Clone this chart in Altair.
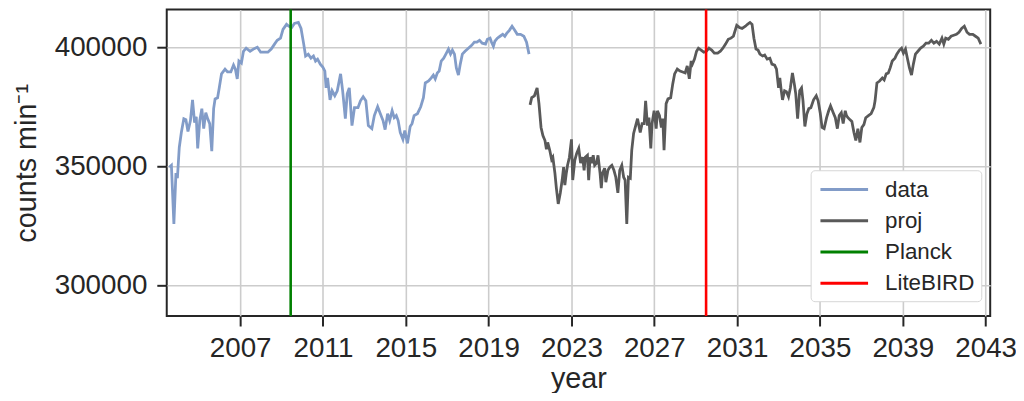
import altair as alt
import pandas as pd

# ---- observed neutron-monitor counts ("data") ----
data_year = [
    2003.58, 2003.68, 2003.80, 2003.90, 2003.97,
    2004.06, 2004.16, 2004.28, 2004.38, 2004.48, 2004.60, 2004.70, 2004.80, 2004.88, 2004.95,
    2005.05, 2005.15, 2005.24, 2005.34, 2005.43, 2005.53, 2005.63, 2005.72, 2005.79, 2005.91, 2005.99,
    2006.10, 2006.27, 2006.39, 2006.55, 2006.68, 2006.77, 2006.86, 2006.94,
    2007.06, 2007.16, 2007.29, 2007.48, 2007.64, 2007.83, 2007.99,
    2008.18, 2008.34, 2008.50, 2008.66, 2008.79, 2008.95,
    2009.07, 2009.24, 2009.36, 2009.49, 2009.62, 2009.81, 2009.94,
    2010.07, 2010.16, 2010.29, 2010.42, 2010.54, 2010.64, 2010.74, 2010.87, 2010.99,
    2011.09, 2011.15, 2011.22, 2011.34, 2011.44, 2011.57, 2011.69, 2011.85, 2011.95,
    2012.08, 2012.17, 2012.27, 2012.40, 2012.52, 2012.69, 2012.81, 2012.94,
    2013.07, 2013.19, 2013.36, 2013.48, 2013.64, 2013.77, 2013.90,
    2014.00, 2014.12, 2014.22, 2014.34, 2014.44, 2014.54, 2014.63, 2014.73, 2014.86, 2014.95,
    2015.08, 2015.21, 2015.30, 2015.40, 2015.56, 2015.72, 2015.85, 2015.94,
    2016.10, 2016.23, 2016.33, 2016.42, 2016.52, 2016.61, 2016.71, 2016.83, 2016.96,
    2017.06, 2017.16, 2017.25, 2017.35, 2017.44, 2017.54, 2017.63, 2017.73, 2017.86,
    2018.02, 2018.18, 2018.31, 2018.43, 2018.56, 2018.69, 2018.85, 2018.94,
    2019.07, 2019.14, 2019.23, 2019.30, 2019.42, 2019.55, 2019.68, 2019.78, 2019.87,
    2020.00, 2020.13, 2020.26, 2020.38, 2020.54, 2020.70, 2020.83, 2020.95,
]
data_value = [
    349600, 350400, 325800, 347100, 345000,
    357900, 364200, 370000, 369600, 364600, 369200, 377900, 368300, 370800, 357500,
    369200, 374200, 365800, 372500, 370000, 367900, 356300, 374200, 378300, 378800, 382900,
    388800, 390800, 389600, 389600, 392500, 390800, 386700, 394200,
    393300, 398300, 399600, 398300, 399200, 400000, 397900,
    397900, 397900, 399200, 401300, 402900, 403800,
    407500, 409600, 408800, 408300, 410000, 410400, 407900,
    401300, 396300, 397100, 395400, 396300, 394200, 395000, 392900, 391700,
    390000, 382900, 387100, 377900, 381700, 379600, 381700, 388800, 381700,
    370000, 380400, 382900, 367100, 374600, 374600, 377500, 379200,
    377500, 367100, 365800, 371300, 375000, 372100, 369200,
    365400, 372100, 369200, 373300, 370400, 371300, 369200, 364200, 361300, 365000,
    359600, 366700, 367900, 371300, 372100, 375000, 378800, 385000,
    385800, 387100, 388300, 386700, 389200, 390000, 394200, 395400, 397500,
    399200, 397100, 398800, 397100, 391300, 388300, 392900, 397100, 398300,
    399600, 400800, 402100, 402100, 402900, 401700, 401300, 403300,
    403800, 402100, 400400, 402500, 403800, 404600, 405400, 404600, 405800,
    407100, 408800, 407100, 405400, 405400, 404600, 402100, 397100,
]

# ---- projection ("proj") ----
proj_year = [
    2021.00, 2021.08, 2021.21, 2021.34, 2021.43, 2021.53, 2021.62, 2021.72, 2021.79, 2021.85, 2021.95,
    2022.04, 2022.10, 2022.20, 2022.27, 2022.36, 2022.46, 2022.55, 2022.62, 2022.68, 2022.75, 2022.81, 2022.90,
    2023.00, 2023.06, 2023.16, 2023.25, 2023.35, 2023.44, 2023.54, 2023.61, 2023.67, 2023.77, 2023.83, 2023.90, 2023.99,
    2024.05, 2024.12, 2024.21, 2024.28, 2024.38, 2024.44, 2024.50, 2024.60, 2024.66, 2024.76, 2024.85, 2024.95,
    2025.05, 2025.14, 2025.24, 2025.33, 2025.43, 2025.52, 2025.59, 2025.67, 2025.75, 2025.84, 2025.91,
    2026.00, 2026.10, 2026.19, 2026.32, 2026.41, 2026.51, 2026.58, 2026.67, 2026.74, 2026.83, 2026.89, 2026.99,
    2027.09, 2027.15, 2027.25, 2027.34, 2027.41, 2027.47, 2027.57, 2027.66, 2027.79, 2027.89, 2027.98,
    2028.11, 2028.24, 2028.37, 2028.49, 2028.59, 2028.69, 2028.78, 2028.84, 2028.94,
    2029.04, 2029.13, 2029.26, 2029.39, 2029.51, 2029.64, 2029.77, 2029.90,
    2030.06, 2030.19, 2030.31, 2030.44, 2030.57, 2030.70, 2030.82, 2030.98,
    2031.11, 2031.24, 2031.40, 2031.50, 2031.62, 2031.72, 2031.81, 2031.91,
    2032.01, 2032.10, 2032.23, 2032.33, 2032.45, 2032.58, 2032.68, 2032.81, 2032.90,
    2033.00, 2033.06, 2033.12, 2033.19, 2033.29, 2033.38, 2033.48, 2033.57, 2033.67, 2033.76, 2033.83, 2033.92,
    2034.02, 2034.11, 2034.18, 2034.27, 2034.37, 2034.46, 2034.56, 2034.69, 2034.82, 2034.91,
    2035.01, 2035.10, 2035.20, 2035.32, 2035.42, 2035.51, 2035.64, 2035.74, 2035.84, 2035.93,
    2036.03, 2036.12, 2036.22, 2036.28, 2036.35, 2036.44, 2036.54, 2036.64, 2036.73, 2036.83, 2036.93,
    2037.02, 2037.12, 2037.21, 2037.34, 2037.47, 2037.60, 2037.66, 2037.75, 2037.88,
    2038.01, 2038.10, 2038.20, 2038.30, 2038.39, 2038.49, 2038.62, 2038.71, 2038.84, 2038.94,
    2039.03, 2039.13, 2039.22, 2039.32, 2039.42, 2039.51, 2039.61, 2039.73, 2039.86, 2039.99,
    2040.12, 2040.25, 2040.38, 2040.50, 2040.63, 2040.76, 2040.89, 2040.98,
    2041.07, 2041.20, 2041.33, 2041.46, 2041.59, 2041.71, 2041.84, 2041.97,
    2042.10, 2042.22, 2042.38, 2042.51, 2042.64, 2042.77,
]
proj_value = [
    375800, 378800, 379600, 382900, 376300, 366300, 362900, 360800, 357100, 360000, 356700,
    352900, 353800, 347100, 340800, 334200, 338800, 344200, 349600, 342100, 347100, 350400, 353800,
    361300, 344200, 352500, 355400, 357500, 351300, 353800, 348300, 353800, 354600, 344200, 353800, 351300,
    354600, 350400, 351300, 354600, 347100, 340800, 347100, 349200, 343300, 348300, 349600, 350400,
    348300, 345400, 338800, 348300, 350400, 345400, 344200, 325800, 345400, 345000, 356700,
    363800, 367100, 370000, 364200, 367900, 367900, 377500, 367100, 370400, 357500, 367900, 373300,
    365800, 373300, 371300, 366300, 370000, 356700, 376300, 378300, 378800, 384600, 388800,
    390800, 390000, 389600, 389200, 392100, 386700, 394200, 392900, 395000,
    398300, 399600, 398800, 397900, 398300, 399600, 398800, 397500,
    397500, 398300, 399600, 401300, 403300, 403800, 404600, 409200,
    408300, 407900, 408800, 409600, 410400, 409600, 403800, 399200,
    398800, 397100, 396300, 396700, 395000, 395400, 392900, 392500, 390800,
    382900, 387100, 382500, 377900, 381700, 381300, 379200, 382900, 389200, 384600, 380400, 370000,
    381700, 382900, 377500, 366700, 372100, 374200, 374600, 377900, 379600, 377500,
    372500, 366300, 365800, 370400, 373300, 375400, 372500, 370400, 365800, 371300,
    372500, 367900, 373300, 371300, 370400, 369600, 368800, 364200, 360800, 365800, 360000,
    366300, 367500, 370400, 371300, 372100, 374600, 377500, 385000, 385800,
    387100, 386300, 388800, 389200, 391300, 394200, 395400, 397100, 398800, 399600,
    397500, 399200, 395400, 391300, 388300, 392900, 397100, 398300, 399600, 400400,
    401700, 401700, 402900, 401700, 402500, 401300, 403800, 401300,
    403800, 403300, 404600, 405000, 405400, 406300, 407900, 408800,
    406300, 405400, 405400, 404600, 403800, 401300,
]

# ---- mission markers ----
event_names = ["Planck", "LiteBIRD"]
event_year = [2009.44, 2029.5]

series_names = ["data", "proj", "Planck", "LiteBIRD"]
series_colors = ["#829cc8", "#595959", "#008000", "#ff0000"]

x_ticks = list(range(2007, 2044, 4))
y_ticks = [300000, 350000, 400000]
x_domain = [2003.455, 2043.22]
y_domain = [287080, 415830]

FONT = "Liberation Sans"
INK = "#262626"

df_lines = pd.DataFrame({
    "year": data_year + proj_year,
    "value": data_value + proj_value,
    "series": ["data"] * len(data_year) + ["proj"] * len(proj_year),
})
df_events = pd.DataFrame({"year": event_year, "series": event_names})

# wide horizontal line symbol inside a small (24px) symbol box
LINE_SYMBOL = "M-0.8,0H3.2"

color = alt.Color(
    "series:N",
    scale=alt.Scale(domain=series_names, range=series_colors),
    legend=alt.Legend(
        title=None,
        orient="none",
        legendX=649,
        legendY=162,
        symbolType=LINE_SYMBOL,
        symbolSize=576,
        symbolStrokeWidth=3,
        labelFont=FONT,
        labelFontSize=22.5,
        labelColor=INK,
        labelOffset=42,
        rowPadding=6.5,
        padding=6,
        fillColor="white",
        strokeColor="#d6d6d6",
        cornerRadius=4,
    ),
)

x = alt.X(
    "year:Q",
    scale=alt.Scale(domain=x_domain, nice=False, zero=False),
    axis=alt.Axis(values=x_ticks, format="d", title="year"),
)
y = alt.Y(
    "value:Q",
    scale=alt.Scale(domain=y_domain, nice=False, zero=False),
    axis=alt.Axis(values=y_ticks, format="d", title="counts min⁻¹"),
)

lines = alt.Chart(df_lines).mark_line(strokeWidth=2.8, clip=True).encode(
    x=x, y=y, color=color
)
rules = alt.Chart(df_events).mark_rule(strokeWidth=2.6).encode(
    x=alt.X("year:Q"), color=alt.Color("series:N")
)

chart = (
    alt.layer(lines, rules)
    .properties(
        width=830,
        height=309,
        autosize=alt.AutoSizeParams(type="none"),
        padding={"left": 160, "top": 0, "right": 26, "bottom": 76},
    )
    .configure_view(stroke=INK, strokeWidth=2)
    .configure_axis(
        labelFont=FONT,
        labelFontSize=28,
        labelColor=INK,
        titleFont=FONT,
        titleFontSize=29,
        titleFontWeight="normal",
        titleColor=INK,
        tickColor=INK,
        tickWidth=2,
        tickSize=10,
        grid=True,
        gridColor="#cccccc",
        gridWidth=1.6,
        domain=False,
    )
    .configure_axisX(labelPadding=9, titlePadding=2)
    .configure_axisY(labelPadding=10, titlePadding=13)
)

chart.save("out.html", embed_options={"renderer": "svg", "actions": False})
